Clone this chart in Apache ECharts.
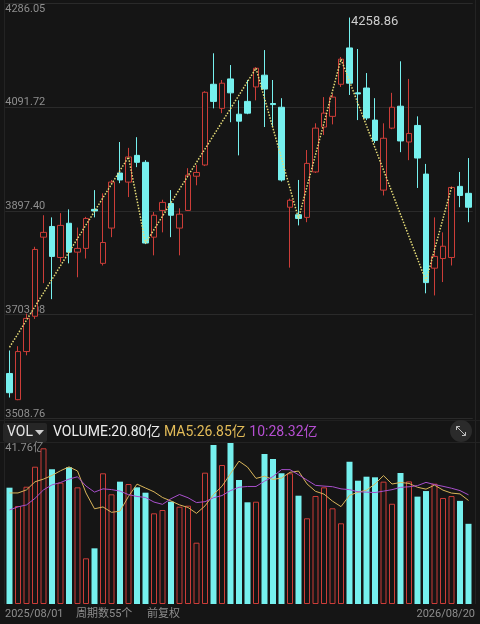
<!DOCTYPE html>
<html><head><meta charset="utf-8">
<script src="https://cdn.jsdelivr.net/npm/echarts@6/dist/echarts.min.js"></script>
<style>html,body{margin:0;padding:0;background:#151515;}#c{width:480px;height:624px;}</style>
</head><body><div id="c"></div>
<script>
const categories = ['2025/08/01','2025/08/08','2025/08/15','2025/08/22','2025/08/29','2025/09/05','2025/09/12','2025/09/19','2025/09/26','2025/10/03','2025/10/10','2025/10/17','2025/10/24','2025/10/31','2025/11/07','2025/11/14','2025/11/21','2025/11/28','2025/12/05','2025/12/12','2025/12/19','2025/12/26','2026/01/02','2026/01/09','2026/01/16','2026/01/23','2026/01/30','2026/02/06','2026/02/13','2026/02/27','2026/03/06','2026/03/13','2026/03/20','2026/03/27','2026/04/03','2026/04/10','2026/04/17','2026/04/24','2026/05/01','2026/05/08','2026/05/15','2026/05/22','2026/05/29','2026/06/05','2026/06/12','2026/06/19','2026/06/26','2026/07/03','2026/07/10','2026/07/17','2026/07/24','2026/07/31','2026/08/07','2026/08/14','2026/08/20'];
const opens  = [3593,3544,3634,3700,3848,3868,3810,3874,3820,3827,3900,3799,3865,3968,3951,4001,3988,3848,3898,3911,3865,3898,3962,3983,4134,4089,4144,4078,4102,4129,4151,4098,4091,3904,3890,3885,3970,4054,4074,4134,4202,4118,4127,4067,3936,4052,4093,4026,4057,3966,3790,3808,3810,3943,3930];
const closes = [3557,3634,3696,3825,3857,3812,3870,3820,3827,3883,3897,3838,3951,3955,3998,3988,3837,3889,3913,3889,3891,3964,3969,4119,4102,4136,4118,4065,4080,4164,4125,4096,3955,3917,3883,3986,4052,4080,4110,4181,4136,4116,4071,4029,4033,4091,4028,4042,3996,3763,3812,3831,3941,3926,3904];
const lows   = [3548,3543,3627,3695,3762,3732,3801,3799,3773,3808,3885,3795,3848,3949,3923,3979,3835,3814,3857,3848,3814,3897,3945,3981,4089,4080,4063,4001,4078,4104,4054,4054,3952,3791,3870,3876,3968,4039,4059,4129,4114,4067,4067,4024,3926,4050,4007,3992,3940,3743,3739,3764,3795,3904,3876];
const highs  = [3636,3644,3705,3830,3889,3885,3893,3900,3866,3886,3936,3930,3955,4026,4015,4035,3992,3895,3918,3936,3902,3977,3983,4121,4192,4142,4170,4104,4142,4166,4198,4142,4108,3920,3955,4011,4061,4110,4116,4185,4258.86,4200,4155,4108,4061,4118,4177,4144,4074,3985,3885,3857,3943,3970,3996];
const volumes = [30.17,25.42,30.42,35.61,40.38,34.93,31.47,35.45,30.26,11.85,14.44,33.9,28.45,31.73,31.12,30.26,28.87,23.52,24.38,26.53,25.24,25.5,15.9,34.06,41.24,36.05,41.76,32.16,26.38,26.53,38.9,37.61,33.9,33.9,28.09,22.23,28.01,30.26,24.82,20.93,36.91,31.98,33.02,32.86,31.73,26.0,34.0,31.8,27.85,29.3,31.2,27.5,28.0,26.75,20.80];
const ma5Head  = [28.8,28.8,29.6,31.7];
const ma10Head = [24.4,25.2,25.7,27.4,29.6,30.9,31.5,32.4,33.0];
const zigzagIdx = [0,14,16,29,34,39,49,52];
const zigzagVal = [3642,3998,3837,4164,3883,4181,3766,3941];
const priceTicks = ['3508.76','3703.08','3897.40','4091.72','4286.05'];
const volMax = 41.76;
const peakIdx = 40;

const RED='#cc3d38', CYAN='#76f0ee', BG='#151515', GRID='#2a2a2a', LBL='#8e8e8e';
const FONT='Roboto, "Noto Sans CJK SC", sans-serif';
function ma(n, head){
  return volumes.map((v,i)=> i<head.length ? head[i] : volumes.slice(i-n+1,i+1).reduce((a,b)=>a+b,0)/n);
}
const ma5 = ma(5, ma5Head), ma10 = ma(10, ma10Head);
const kData = opens.map((o,i)=>[o, closes[i], lows[i], highs[i]]);
const volData = volumes.map((v,i)=>({value:v, itemStyle: closes[i]>=opens[i]
  ? {color:BG,borderColor:RED,borderWidth:1}
  : {color:CYAN,borderColor:CYAN,borderWidth:0}}));
const zig = categories.map(()=>null); zigzagIdx.forEach((k,j)=>{zig[k]=zigzagVal[j];});
const last = volumes.length-1;

const hideAxis = {axisLine:{show:false},axisTick:{show:false},axisLabel:{show:false},splitLine:{show:false}};
const chart = echarts.init(document.getElementById('c'), null, {renderer:'canvas'});
chart.setOption({
  backgroundColor: BG,
  animation:false,
  textStyle:{fontFamily:FONT},
  grid:[{left:5.25,right:7.25,top:3,height:415.5},{left:5.25,right:7.25,top:443,height:161}],
  xAxis:[
    Object.assign({type:'category',data:categories,gridIndex:0,boundaryGap:true},hideAxis),
    Object.assign({type:'category',data:categories,gridIndex:1,boundaryGap:true},hideAxis)
  ],
  yAxis:[
    Object.assign({gridIndex:0,min:3508.76,max:4286.05},hideAxis),
    {gridIndex:0,min:0,max:4,interval:1,position:'left',
      axisLine:{show:false},axisTick:{show:false},
      splitLine:{show:true,lineStyle:{color:GRID,width:1}},
      axisLabel:{inside:true,margin:0,showMinLabel:true,showMaxLabel:true,
        formatter:v=> v===4 ? '{t|'+priceTicks[v]+'}' : '{n|'+priceTicks[v]+'}',
        rich:{n:{fontSize:11,color:LBL,fontFamily:FONT,padding:[0,0,9,0]},
              t:{fontSize:11,color:LBL,fontFamily:FONT,padding:[12,0,0,0]}}}},
    {gridIndex:1,min:0,max:volMax,interval:volMax,
      axisLine:{show:false},axisTick:{show:false},splitLine:{show:false},
      axisLabel:{inside:true,margin:0,verticalAlign:'top',fontSize:11,color:LBL,fontFamily:FONT,
        showMaxLabel:true,formatter:v=> v>0 ? volMax.toFixed(2)+'亿' : ''}}
  ],
  series:[
    {type:'candlestick',xAxisIndex:0,yAxisIndex:0,data:kData,barWidth:6,
      itemStyle:{color:BG,color0:CYAN,borderColor:RED,borderColor0:CYAN,borderWidth:1},
      markPoint:{symbol:'circle',symbolSize:1,itemStyle:{color:'rgba(0,0,0,0)'},
        data:[{coord:[peakIdx,highs[peakIdx]],value:highs[peakIdx]}],
        label:{show:true,position:'right',distance:1,offset:[0,4],color:'#cdcdcd',fontSize:13,fontFamily:FONT,
          formatter:p=>Number(p.value).toFixed(2)}}},
    {type:'line',xAxisIndex:0,yAxisIndex:0,data:zig,connectNulls:true,symbol:'none',z:5,
      lineStyle:{color:'#e6dc78',width:1.5,type:'dotted'}},
    {type:'bar',xAxisIndex:1,yAxisIndex:2,data:volData,barWidth:6},
    {type:'line',xAxisIndex:1,yAxisIndex:2,data:ma5,symbol:'none',z:5,lineStyle:{color:'#d9b55a',width:1}},
    {type:'line',xAxisIndex:1,yAxisIndex:2,data:ma10,symbol:'none',z:5,lineStyle:{color:'#a84fcc',width:1}}
  ],
  graphic:[
    {type:'line',shape:{x1:4.5,y1:0,x2:4.5,y2:604},style:{stroke:'#232323',lineWidth:1},silent:true},
    {type:'line',shape:{x1:475.5,y1:0,x2:475.5,y2:604},style:{stroke:'#232323',lineWidth:1},silent:true},
    {type:'line',shape:{x1:0,y1:420.5,x2:480,y2:420.5},style:{stroke:'#202020',lineWidth:1},silent:true},
    {type:'line',shape:{x1:0,y1:442.5,x2:480,y2:442.5},style:{stroke:'#232323',lineWidth:1},silent:true},
    {type:'rect',shape:{x:3,y:423,width:44,height:19,r:2},style:{fill:'#262626'},silent:true},
    {type:'text',x:7,y:432.5,style:{text:'VOL',fill:'#e4e4e4',fontSize:14,fontFamily:FONT,verticalAlign:'middle'},silent:true},
    {type:'polygon',shape:{points:[[35,430],[44,430],[39.5,435]]},style:{fill:'#cfcfcf'},silent:true},
    {type:'text',x:53,y:432.5,silent:true,style:{
      text:'{w|VOLUME:'+volumes[last].toFixed(2)+'亿} {y|MA5:'+ma5[last].toFixed(2)+'亿} {p|10:'+ma10[last].toFixed(2)+'亿}',
      verticalAlign:'middle',fontFamily:FONT,fontSize:14,
      rich:{w:{fill:'#ececec',fontSize:14,fontFamily:FONT},y:{fill:'#e2bb58',fontSize:14,fontFamily:FONT},p:{fill:'#b64fd2',fontSize:14,fontFamily:FONT}}}},
    {type:'circle',shape:{cx:461,cy:431,r:11},style:{fill:'#2b2b2b'},silent:true},
    {type:'line',shape:{x1:456.5,y1:426.5,x2:465.5,y2:435.5},style:{stroke:'#bdbdbd',lineWidth:1},silent:true},
    {type:'polyline',shape:{points:[[456.5,430],[456.5,426.5],[460,426.5]]},style:{stroke:'#bdbdbd',lineWidth:1,fill:null},silent:true},
    {type:'polyline',shape:{points:[[462,435.5],[465.5,435.5],[465.5,432]]},style:{stroke:'#bdbdbd',lineWidth:1,fill:null},silent:true},
    {type:'text',x:5,y:614,style:{text:categories[0],fill:LBL,fontSize:11,fontFamily:FONT,verticalAlign:'middle'},silent:true},
    {type:'text',x:76,y:614,style:{text:'周期数'+categories.length+'个',fill:LBL,fontSize:11,fontFamily:FONT,verticalAlign:'middle'},silent:true},
    {type:'text',x:147,y:614,style:{text:'前复权',fill:LBL,fontSize:11,fontFamily:FONT,verticalAlign:'middle'},silent:true},
    {type:'text',x:475,y:614,style:{text:categories[last],fill:LBL,fontSize:11,fontFamily:FONT,align:'right',verticalAlign:'middle'},silent:true}
  ]
});
</script></body></html>
